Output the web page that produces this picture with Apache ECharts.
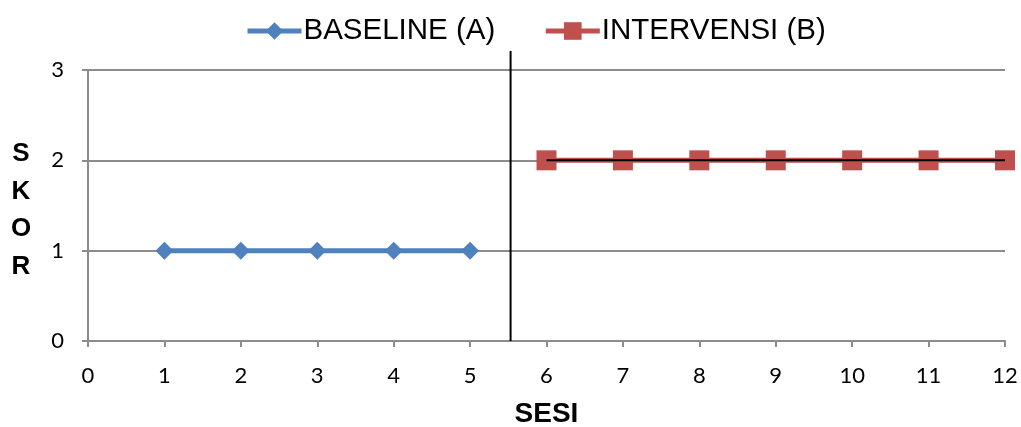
<!DOCTYPE html>
<html>
<head>
<meta charset="utf-8">
<script src="https://cdn.jsdelivr.net/npm/echarts@6/dist/echarts.min.js"></script>
<style>
  html, body { margin: 0; padding: 0; background: #fff; }
  #chart { width: 1021px; height: 427px; }
</style>
</head>
<body>
<div id="chart"></div>
<script>
// Sessions and scores for each phase
const baselineSessions = [1, 2, 3, 4, 5];
const baselineScores = [1, 1, 1, 1, 1];
const interventionSessions = [6, 7, 8, 9, 10, 11, 12];
const interventionScores = [2, 2, 2, 2, 2, 2, 2];
// Level line across the intervention phase
const levelSessions = [6, 12];
const levelScores = [2, 2];
// Phase divider between baseline and intervention
const dividerSession = 5.53;
const dividerScores = [0, 3.21];
const xTicks = [0, 1, 2, 3, 4, 5, 6, 7, 8, 9, 10, 11, 12];
const yTicks = [0, 1, 2, 3];

const pair = (xs, ys) => xs.map((x, i) => [x, ys[i]]);

const BLUE = '#4F81BD';
const RED = '#C0504D';
const GRID_GREY = '#8c8c8c';

const chart = echarts.init(document.getElementById('chart'), null, { renderer: 'canvas' });
chart.setOption({
  animation: false,
  backgroundColor: '#ffffff',
  legend: {
    top: 11,
    left: 240,
    itemGap: 48,
    itemWidth: 54,
    itemHeight: 22,
    lineStyle: { width: 5 },
    data: [
      { name: 'BASELINE (A)', lineStyle: { width: 5, color: BLUE } },
      { name: 'INTERVENSI (B)', lineStyle: { width: 5, color: RED } }
    ],
    textStyle: { fontFamily: 'Liberation Sans, Arial', fontSize: 29.5, color: '#000', padding: [0, 0, 0, -3] }
  },
  grid: { left: 88, right: 16, top: 70, bottom: 86, containLabel: false, outerBoundsMode: 'none' },
  xAxis: {
    type: 'value',
    min: xTicks[0],
    max: xTicks[xTicks.length - 1],
    interval: 1,
    name: 'SESI',
    nameLocation: 'middle',
    nameGap: 59,
    nameTextStyle: { fontFamily: 'Liberation Sans, Arial', fontWeight: 'bold', fontSize: 28, color: '#000' },
    axisLine: { show: true, lineStyle: { color: GRID_GREY, width: 2 } },
    axisTick: { show: true, inside: false, length: 6, lineStyle: { color: GRID_GREY, width: 2 } },
    axisLabel: { fontFamily: 'Lato, Open Sans', fontSize: 22, color: '#000', margin: 24 },
    splitLine: { show: false }
  },
  yAxis: {
    type: 'value',
    min: yTicks[0],
    max: yTicks[yTicks.length - 1],
    interval: 1,
    // a thin spacer line first nudges the stacked letters slightly downward
    name: '{gap| }\n{l|S}\n{l|K}\n{l|O}\n{l|R}',
    nameLocation: 'middle',
    nameGap: 67,
    nameRotate: 0,
    nameTextStyle: {
      color: '#000',
      align: 'center',
      rich: {
        gap: { fontSize: 1, lineHeight: 10 },
        l: { fontFamily: 'Liberation Sans, Arial', fontWeight: 'bold', fontSize: 26, color: '#000', lineHeight: 37.5 }
      }
    },
    axisLine: { show: true, lineStyle: { color: GRID_GREY, width: 2 } },
    axisTick: { show: true, inside: false, length: 6, lineStyle: { color: GRID_GREY, width: 2 } },
    axisLabel: { fontFamily: 'Lato, Open Sans', fontSize: 22, color: '#000', margin: 24 },
    splitLine: { show: true, lineStyle: { color: GRID_GREY, width: 2 } }
  },
  series: [
    {
      name: 'BASELINE (A)',
      type: 'line',
      data: pair(baselineSessions, baselineScores),
      symbol: 'diamond',
      symbolSize: [18, 18],
      color: BLUE,
      lineStyle: { color: BLUE, width: 5 },
      itemStyle: { color: BLUE },
      z: 3
    },
    {
      name: 'INTERVENSI (B)',
      type: 'line',
      data: pair(interventionSessions, interventionScores),
      symbol: 'rect',
      symbolSize: [20, 20],
      color: RED,
      lineStyle: { color: RED, width: 5 },
      itemStyle: { color: RED },
      z: 3
    },
    {
      name: 'level',
      type: 'line',
      data: pair(levelSessions, levelScores),
      showSymbol: false,
      symbol: 'none',
      lineStyle: { color: '#000', width: 2 },
      silent: true,
      z: 5
    },
    {
      name: 'divider',
      type: 'line',
      data: dividerScores.map(y => [dividerSession, y]),
      symbol: 'none',
      clip: false,
      lineStyle: { color: '#000', width: 2 },
      silent: true,
      z: 4
    }
  ]
});
</script>
</body>
</html>
